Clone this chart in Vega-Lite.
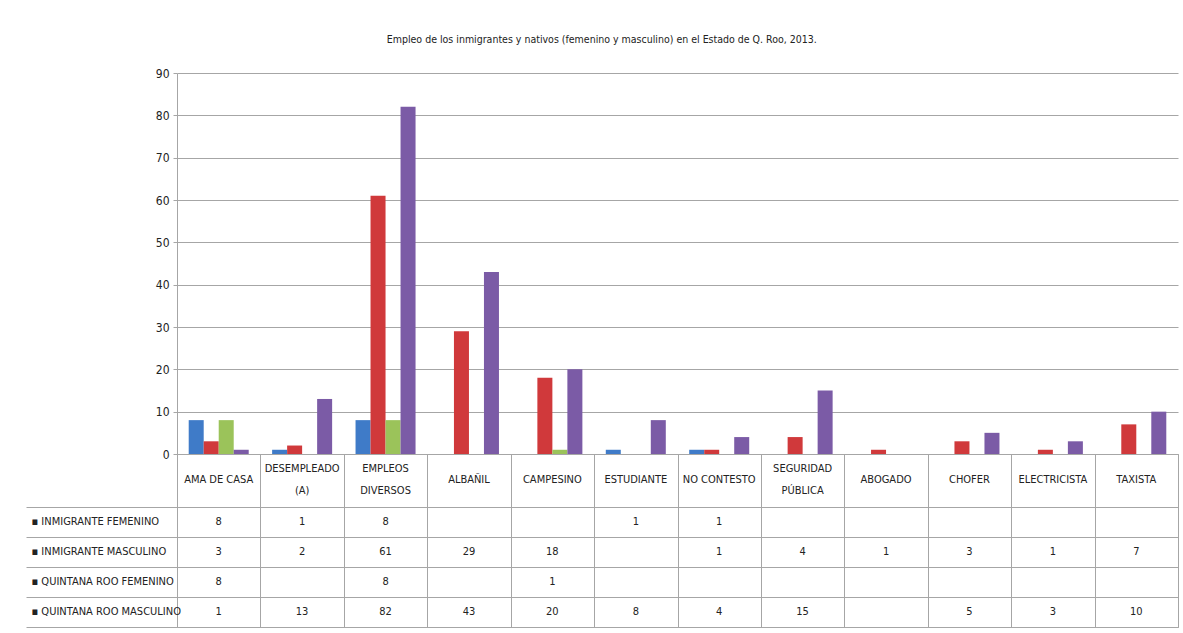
{
  "$schema": "https://vega.github.io/schema/vega-lite/v6.json",
  "padding": {"left": 25, "top": 34, "right": 5, "bottom": 4},
  "spacing": 0,
  "bounds": "flush",
  "title": {"text": "Empleo de los inmigrantes y nativos (femenino y masculino) en el Estado de Q. Roo, 2013.", "fontSize": 10.5, "fontWeight": "normal", "color": "#222", "font": "DejaVu Sans Condensed", "offset": 22, "anchor": "middle"},
  "config": {"font": "DejaVu Sans Condensed", "view": {"stroke": null}},
  "datasets": {
    "d": [
      {"cat": "AMA DE CASA", "serie": "INMIGRANTE FEMENINO", "v": 8},
      {"cat": "DESEMPLEADO (A)", "serie": "INMIGRANTE FEMENINO", "v": 1},
      {"cat": "EMPLEOS DIVERSOS", "serie": "INMIGRANTE FEMENINO", "v": 8},
      {"cat": "ESTUDIANTE", "serie": "INMIGRANTE FEMENINO", "v": 1},
      {"cat": "NO CONTESTO", "serie": "INMIGRANTE FEMENINO", "v": 1},
      {"cat": "AMA DE CASA", "serie": "INMIGRANTE MASCULINO", "v": 3},
      {"cat": "DESEMPLEADO (A)", "serie": "INMIGRANTE MASCULINO", "v": 2},
      {"cat": "EMPLEOS DIVERSOS", "serie": "INMIGRANTE MASCULINO", "v": 61},
      {"cat": "ALBAÑIL", "serie": "INMIGRANTE MASCULINO", "v": 29},
      {"cat": "CAMPESINO", "serie": "INMIGRANTE MASCULINO", "v": 18},
      {"cat": "NO CONTESTO", "serie": "INMIGRANTE MASCULINO", "v": 1},
      {"cat": "SEGURIDAD PÚBLICA", "serie": "INMIGRANTE MASCULINO", "v": 4},
      {"cat": "ABOGADO", "serie": "INMIGRANTE MASCULINO", "v": 1},
      {"cat": "CHOFER", "serie": "INMIGRANTE MASCULINO", "v": 3},
      {"cat": "ELECTRICISTA", "serie": "INMIGRANTE MASCULINO", "v": 1},
      {"cat": "TAXISTA", "serie": "INMIGRANTE MASCULINO", "v": 7},
      {"cat": "AMA DE CASA", "serie": "QUINTANA ROO FEMENINO", "v": 8},
      {"cat": "EMPLEOS DIVERSOS", "serie": "QUINTANA ROO FEMENINO", "v": 8},
      {"cat": "CAMPESINO", "serie": "QUINTANA ROO FEMENINO", "v": 1},
      {"cat": "AMA DE CASA", "serie": "QUINTANA ROO MASCULINO", "v": 1},
      {"cat": "DESEMPLEADO (A)", "serie": "QUINTANA ROO MASCULINO", "v": 13},
      {"cat": "EMPLEOS DIVERSOS", "serie": "QUINTANA ROO MASCULINO", "v": 82},
      {"cat": "ALBAÑIL", "serie": "QUINTANA ROO MASCULINO", "v": 43},
      {"cat": "CAMPESINO", "serie": "QUINTANA ROO MASCULINO", "v": 20},
      {"cat": "ESTUDIANTE", "serie": "QUINTANA ROO MASCULINO", "v": 8},
      {"cat": "NO CONTESTO", "serie": "QUINTANA ROO MASCULINO", "v": 4},
      {"cat": "SEGURIDAD PÚBLICA", "serie": "QUINTANA ROO MASCULINO", "v": 15},
      {"cat": "CHOFER", "serie": "QUINTANA ROO MASCULINO", "v": 5},
      {"cat": "ELECTRICISTA", "serie": "QUINTANA ROO MASCULINO", "v": 3},
      {"cat": "TAXISTA", "serie": "QUINTANA ROO MASCULINO", "v": 10}
    ],
    "cats": [
      {"cat": "AMA DE CASA", "lab": "AMA DE CASA"},
      {"cat": "DESEMPLEADO (A)", "lab": "DESEMPLEADO\n(A)"},
      {"cat": "EMPLEOS DIVERSOS", "lab": "EMPLEOS\nDIVERSOS"},
      {"cat": "ALBAÑIL", "lab": "ALBAÑIL"},
      {"cat": "CAMPESINO", "lab": "CAMPESINO"},
      {"cat": "ESTUDIANTE", "lab": "ESTUDIANTE"},
      {"cat": "NO CONTESTO", "lab": "NO CONTESTO"},
      {"cat": "SEGURIDAD PÚBLICA", "lab": "SEGURIDAD\nPÚBLICA"},
      {"cat": "ABOGADO", "lab": "ABOGADO"},
      {"cat": "CHOFER", "lab": "CHOFER"},
      {"cat": "ELECTRICISTA", "lab": "ELECTRICISTA"},
      {"cat": "TAXISTA", "lab": "TAXISTA"}
    ]
  },
  "vconcat": [
    {
      "width": 1001,
      "height": 381,
      "data": {"name": "d"},
      "mark": {"type": "bar"},
      "encoding": {
        "x": {"field": "cat", "type": "nominal", "axis": null,
          "scale": {"domain": ["AMA DE CASA", "DESEMPLEADO (A)", "EMPLEOS DIVERSOS", "ALBAÑIL", "CAMPESINO", "ESTUDIANTE", "NO CONTESTO", "SEGURIDAD PÚBLICA", "ABOGADO", "CHOFER", "ELECTRICISTA", "TAXISTA"], "paddingInner": 0, "paddingOuter": 0}},
        "xOffset": {"field": "serie", "type": "nominal",
          "scale": {"domain": ["INMIGRANTE FEMENINO", "INMIGRANTE MASCULINO", "QUINTANA ROO FEMENINO", "QUINTANA ROO MASCULINO"], "paddingInner": 0, "paddingOuter": 0.78}},
        "y": {"field": "v", "type": "quantitative", "scale": {"domain": [0, 90]},
          "axis": {"values": [0, 10, 20, 30, 40, 50, 60, 70, 80, 90], "title": null, "grid": true, "gridColor": "#a6a6a6", "domain": true, "domainColor": "#a6a6a6", "ticks": true, "tickSize": 4, "tickColor": "#a6a6a6", "labelPadding": 4, "labelFontSize": 12, "labelColor": "#222"}},
        "color": {"field": "serie", "type": "nominal", "legend": null,
          "scale": {"domain": ["INMIGRANTE FEMENINO", "INMIGRANTE MASCULINO", "QUINTANA ROO FEMENINO", "QUINTANA ROO MASCULINO"], "range": ["#3F7BC8", "#D0393B", "#9BC35A", "#7B5BA6"]}}
      }
    },
    {
      "width": 1001,
      "height": 173,
      "view": {"stroke": "#a6a6a6"},
      "layer": [
        {
          "data": {"name": "d"},
          "mark": {"type": "text", "fontSize": 11, "color": "#222"},
          "encoding": {
            "x": {"field": "cat", "type": "nominal",
              "scale": {"domain": ["AMA DE CASA", "DESEMPLEADO (A)", "EMPLEOS DIVERSOS", "ALBAÑIL", "CAMPESINO", "ESTUDIANTE", "NO CONTESTO", "SEGURIDAD PÚBLICA", "ABOGADO", "CHOFER", "ELECTRICISTA", "TAXISTA"], "paddingInner": 0, "paddingOuter": 0},
              "axis": {"grid": true, "tickBand": "extent", "gridColor": "#a6a6a6", "labels": false, "ticks": false, "domain": false, "title": null}},
            "y": {"field": "serie", "type": "nominal",
              "scale": {"domain": ["INMIGRANTE FEMENINO", "INMIGRANTE MASCULINO", "QUINTANA ROO FEMENINO", "QUINTANA ROO MASCULINO"], "paddingInner": 0, "paddingOuter": 0.883, "align": 1},
              "axis": {"title": null, "grid": true, "tickBand": "extent", "gridColor": "#a6a6a6", "ticks": true, "tickSize": 151, "tickColor": "#a6a6a6", "domain": false, "labelPadding": -5, "labelAlign": "left", "labelFontSize": 11, "labelColor": "#222", "labelExpr": "datum.value ? '▪ ' + datum.value : ''"}},
            "text": {"field": "v", "type": "quantitative"}
          }
        },
        {
          "data": {"name": "cats"},
          "transform": [{"filter": "indexof(datum.lab, '\\n') < 0"}],
          "mark": {"type": "text", "fontSize": 11, "color": "#222", "yOffset": -42},
          "encoding": {
            "x": {"field": "cat", "type": "nominal"},
            "y": {"datum": "INMIGRANTE FEMENINO"},
            "text": {"field": "lab"}
          }
        },
        {
          "data": {"name": "cats"},
          "transform": [{"filter": "indexof(datum.lab, '\\n') >= 0"}],
          "mark": {"type": "text", "fontSize": 11, "color": "#222", "lineBreak": "\n", "lineHeight": 22, "yOffset": -53},
          "encoding": {
            "x": {"field": "cat", "type": "nominal"},
            "y": {"datum": "INMIGRANTE FEMENINO"},
            "text": {"field": "lab"}
          }
        }
      ]
    }
  ]
}
